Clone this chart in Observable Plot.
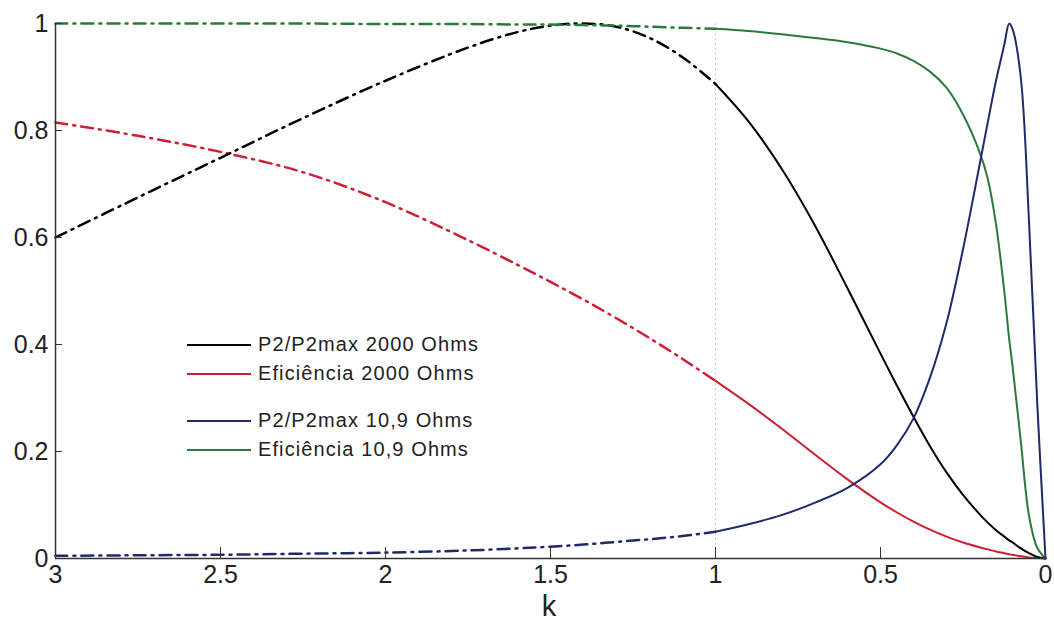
<!DOCTYPE html>
<html>
<head>
<meta charset="utf-8">
<script src="https://cdn.jsdelivr.net/npm/d3@7"></script>
<script src="https://cdn.jsdelivr.net/npm/@observablehq/plot@0.6"></script>
<style>
  html, body { margin: 0; padding: 0; background: #fff; }
  #wrap { position: relative; width: 1054px; height: 630px; font-family: "Liberation Sans", Arial, sans-serif; }
  #legend { position: absolute; left: 187px; top: 330px; font-size: 20px; color: #222; letter-spacing: 1.1px; }
  #legend .row { display: flex; align-items: center; height: 29px; }
  #legend .gap { height: 18px; }
  #legend .swatch { width: 64px; height: 2px; margin-right: 7px; }
  #xlabel { position: absolute; left: 0; width: 1054px; top: 594px; line-height: 24px; padding-left: 44px; box-sizing: border-box; text-align: center; font-size: 29px; color: #222; }
</style>
</head>
<body>
<div id="wrap">
  <div id="chart"></div>
  <div id="legend"></div>
  <div id="xlabel">k</div>
</div>
<script>
// Coupling coefficient k (axis runs from 3 down to 0)
const kGrid = [3, 2.75, 2.5, 2.25, 2, 1.75, 1.6, 1.5, 1.4, 1.3,
  1.2, 1.1, 1, 0.9, 0.8, 0.7, 0.6, 0.5, 0.45, 0.4,
  0.35, 0.3, 0.25, 0.2, 0.175, 0.15, 0.125, 0.11, 0.1, 0.075,
  0.05, 0.025, 0];

// Normalised received power and efficiency for the two loads
const power2000 = [0.60, 0.675, 0.749, 0.823, 0.893, 0.955, 0.984, 0.996, 1.0, 0.994,
  0.973, 0.937, 0.887, 0.817, 0.729, 0.624, 0.505, 0.383, 0.323, 0.265,
  0.21, 0.161, 0.119, 0.083, 0.067, 0.053, 0.041, 0.034, 0.03, 0.019,
  0.010, 0.003, 0];
const eff2000 = [0.815, 0.79, 0.76, 0.722, 0.666, 0.595, 0.549, 0.517, 0.484, 0.449,
  0.412, 0.373, 0.332, 0.289, 0.243, 0.195, 0.148, 0.105, 0.086, 0.069,
  0.054, 0.041, 0.030, 0.021, 0.017, 0.013, 0.010, 0.008, 0.007, 0.004,
  0.002, 0.001, 0];
const power109 = [0.005, 0.006, 0.007, 0.009, 0.011, 0.015, 0.019, 0.022, 0.026, 0.031,
  0.036, 0.042, 0.05, 0.064, 0.081, 0.104, 0.132, 0.176, 0.212, 0.262,
  0.338, 0.44, 0.578, 0.735, 0.815, 0.893, 0.96, 1.0, 0.99, 0.90,
  0.63, 0.29, 0];
const eff109 = [1, 1, 1, 1, 0.999, 0.999, 0.998, 0.998, 0.997, 0.996,
  0.994, 0.992, 0.99, 0.986, 0.98, 0.973, 0.965, 0.953, 0.944, 0.93,
  0.91, 0.88, 0.83, 0.76, 0.71, 0.625, 0.50, 0.41, 0.36, 0.22,
  0.08, 0.02, 0];

const seriesNames = ["P2/P2max 2000 Ohms", "Eficiência 2000 Ohms", "P2/P2max 10,9 Ohms", "Eficiência 10,9 Ohms"];
const seriesColors = ["#000000", "#cc1f35", "#1f2a6b", "#2b7a3c"];
const seriesValues = [power2000, eff2000, power109, eff109];

const xTicks = [3, 2.5, 2, 1.5, 1, 0.5, 0];
const yTicks = [0, 0.2, 0.4, 0.6, 0.8, 1];
const kBoundary = 1;

// long-form rows; draw order puts efficiency 2000 under the power curve
const drawOrder = [1, 0, 3, 2];
const rows = drawOrder.flatMap(s => kGrid.map((k, i) => ({k, v: seriesValues[s][i], series: seriesNames[s]})));
const dashedPart = rows.filter(d => d.k >= kBoundary);
const solidPart = rows.filter(d => d.k <= kBoundary);

const chart = Plot.plot({
  width: 1054,
  height: 630,
  marginLeft: 55,
  marginRight: 9,
  marginTop: 23,
  marginBottom: 72,
  style: {fontFamily: "Liberation Sans, Arial, sans-serif", fontSize: "25px", color: "#222", background: "#fff"},
  x: {domain: [3, 0], ticks: xTicks},
  y: {domain: [0, 1], ticks: yTicks},
  color: {domain: seriesNames, range: seriesColors},
  marks: [
    Plot.ruleX([kBoundary], {stroke: "#c8c8c8", strokeWidth: 1, strokeDasharray: "2,3"}),
    Plot.line(dashedPart, {x: "k", y: "v", z: "series", stroke: "series", strokeWidth: 2.5, strokeDasharray: "12,6,2,6", curve: "catmull-rom"}),
    Plot.line(solidPart, {x: "k", y: "v", z: "series", stroke: "series", strokeWidth: 2, curve: "catmull-rom"}),
    Plot.axisX(xTicks, {tickSize: 11, tickPadding: -4, tickFormat: d => String(d), label: null, stroke: "#333", fill: "#222"}),
    Plot.axisY(yTicks, {tickSize: 7, tickPadding: 0, tickFormat: d => String(d), label: null, stroke: "#333", fill: "#222"}),
    Plot.ruleX([3], {stroke: "#333", strokeWidth: 1.5}),
    Plot.ruleY([0], {stroke: "#333", strokeWidth: 1.5})
  ]
});
document.getElementById("chart").appendChild(chart);

// turn the tick marks inward, into the plotting area
const svg = d3.select(chart);
svg.selectAll('g[aria-label="x-axis tick"] path').attr("d", "M0,0L0,-11");
svg.selectAll('g[aria-label="y-axis tick"] path').attr("d", "M0,0L7,0");

// legend: two groups of two entries
const legend = d3.select("#legend");
seriesNames.forEach((name, i) => {
  if (i === 2) legend.append("div").attr("class", "gap");
  const row = legend.append("div").attr("class", "row");
  row.append("div").attr("class", "swatch").style("background", seriesColors[i]);
  row.append("span").text(name);
});
</script>
</body>
</html>
